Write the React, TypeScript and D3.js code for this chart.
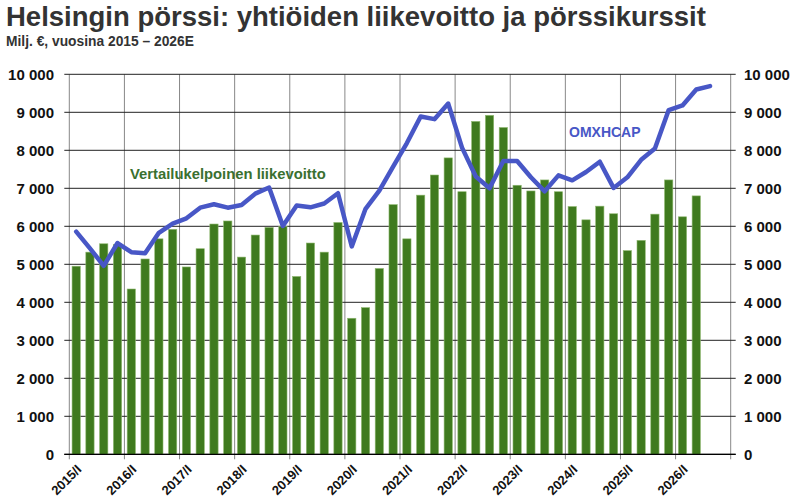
import React from 'react';
import * as d3 from 'd3';

// quarterly data, Milj. €
const years = [2015, 2016, 2017, 2018, 2019, 2020, 2021, 2022, 2023, 2024, 2025, 2026];
const quarterNames = ['I', 'II', 'III', 'IV'];

// vertailukelpoinen liikevoitto, 2015/I - 2026/II
const operatingProfit = [
  4950, 5320, 5540, 5520, 4350, 5140, 5670, 5920,
  4930, 5410, 6060, 6140, 5190, 5770, 5970, 5990,
  4680, 5560, 5320, 6100, 3580, 3860, 4890, 6570,
  5670, 6820, 7350, 7800, 6910, 8760, 8920, 8600,
  7080, 6930, 7220, 6910, 6520, 6170, 6530, 6330,
  5360, 5630, 6320, 7220, 6250, 6800,
];

// OMXHCAP index, 2015/I - 2026/III
const omxhcap = [
  5860, 5420, 4960, 5560, 5320, 5290, 5830, 6070,
  6210, 6490, 6580, 6490, 6560, 6860, 7020, 6010,
  6550, 6500, 6600, 6870, 5470, 6460, 6940, 7570,
  8190, 8890, 8820, 9230, 8070, 7310, 7000, 7720,
  7720, 7290, 6920, 7340, 7210, 7430, 7700, 7010,
  7290, 7750, 8050, 9060, 9180, 9600, 9690,
];

const yTicks = [0, 1000, 2000, 3000, 4000, 5000, 6000, 7000, 8000, 9000, 10000];

const title = 'Helsingin pörssi: yhtiöiden liikevoitto ja pörssikurssit';
const subtitle = 'Milj. €, vuosina 2015 – 2026E';

const W = 800;
const H = 502;
const left = 69.3;
const right = 730.7;
const top = 74.3;
const bottom = 454.3;

const fmt = (v: number) => d3.format(',')(v).replace(/,/g, ' ');

const App: React.FC = () => {
  const quarters = years.flatMap(y => quarterNames.map(q => `${y}/${q}`));

  const x = d3.scaleBand<string>()
    .domain(quarters)
    .range([left, right])
    .paddingInner(0.4)
    .paddingOuter(0.2);

  const y = d3.scaleLinear().domain([0, 10000]).range([bottom, top]);

  const slotStart = (q: string) => (x(q) as number) - (x.step() * x.paddingInner()) / 2;
  const center = (q: string) => (x(q) as number) + x.bandwidth() / 2;

  const line = d3.line<number>()
    .x((_, i) => center(quarters[i]))
    .y(d => y(d));

  const font = '"Liberation Sans", Arial, sans-serif';
  const yearStarts = years.map(yr => `${yr}/I`);

  return (
    <svg width={W} height={H} style={{ position: 'absolute', left: 0, top: 0 }} fontFamily={font}>
      <rect width={W} height={H} fill="#fff" />
      <text x={6} y={26} fontSize={27.5} fontWeight="bold" fill="#333">{title}</text>
      <text x={6} y={46} fontSize={13.8} fontWeight="bold" fill="#333">{subtitle}</text>

      {/* vertical grid */}
      {yearStarts.map(q => (
        <line key={q} x1={slotStart(q)} x2={slotStart(q)} y1={top} y2={bottom + 5} stroke="#888" strokeWidth={1} />
      ))}
      <line x1={right} x2={right} y1={top} y2={bottom + 5} stroke="#888" strokeWidth={1} />

      {/* horizontal grid */}
      {yTicks.map(t => (
        <line key={t} x1={left - 5} x2={right + 5} y1={y(t)} y2={y(t)} stroke="#222" strokeWidth={1} />
      ))}

      {operatingProfit.map((v, i) => (
        <rect
          key={quarters[i]}
          x={x(quarters[i])}
          y={y(v)}
          width={x.bandwidth()}
          height={y(0) - y(v)}
          fill="#3f7a1e"
          stroke="#8fb870"
          strokeWidth={0.6}
        />
      ))}

      <line x1={left - 5} x2={right + 5} y1={bottom} y2={bottom} stroke="#000" strokeWidth={1.2} />

      <path
        d={line(omxhcap) ?? ''}
        fill="none"
        stroke="#4857c6"
        strokeWidth={4.5}
        strokeLinejoin="round"
        strokeLinecap="round"
      />

      {yTicks.map(t => (
        <g key={t} fontSize={15} fontWeight="bold" fill="#111">
          <text x={54} y={y(t)} dy="0.36em" textAnchor="end">{fmt(t)}</text>
          <text x={744} y={y(t)} dy="0.36em">{fmt(t)}</text>
        </g>
      ))}

      {yearStarts.map(q => {
        const px = slotStart(q);
        return (
          <text
            key={q}
            transform={`translate(${px + 13},${bottom + 16}) rotate(-45)`}
            textAnchor="end"
            fontSize={13}
            fontWeight="bold"
            fill="#111"
          >
            {q}
          </text>
        );
      })}

      <text x={130} y={179} fontSize={14.8} fontWeight="bold" fill="#3a7030">Vertailukelpoinen liikevoitto</text>
      <text x={569} y={137} fontSize={14} fontWeight="bold" fill="#4857c6">OMXHCAP</text>
    </svg>
  );
};

export default App;
